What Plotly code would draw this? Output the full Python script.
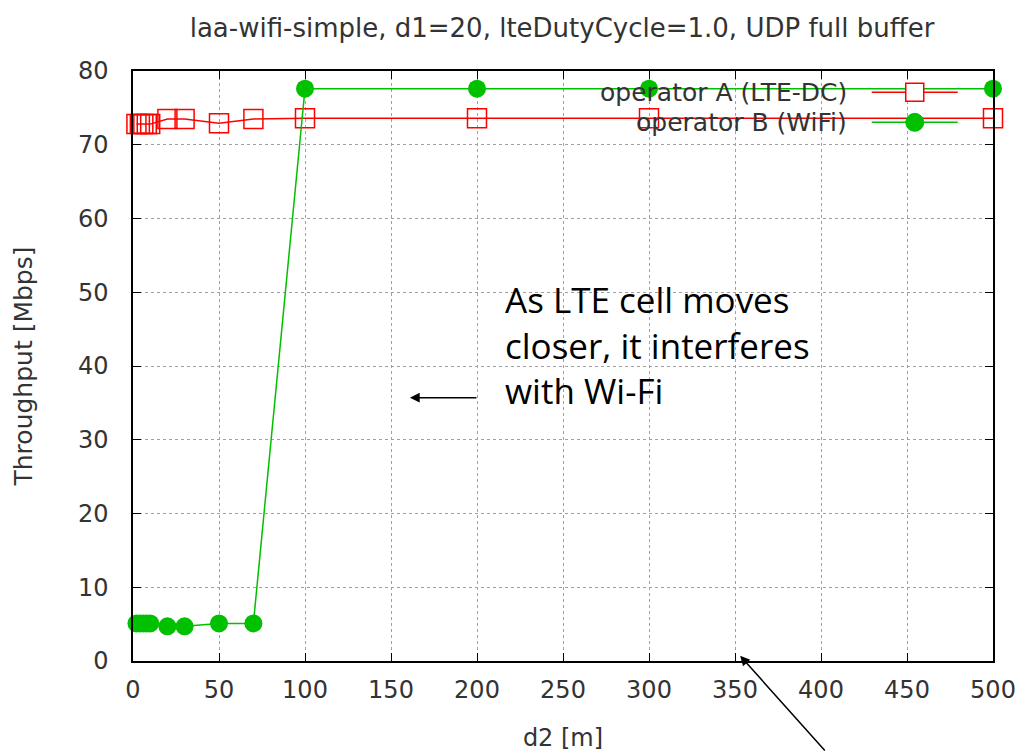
import plotly.graph_objects as go

# ---- data ----
d2 = [2, 4, 6, 8, 10, 20, 30, 50, 70, 100, 200, 300, 500]
op_a_lte = [72.8, 72.8, 72.8, 72.8, 72.8, 73.5, 73.5, 72.9, 73.5, 73.6, 73.6, 73.6, 73.6]
op_b_wifi = [5.1, 5.1, 5.1, 5.1, 5.1, 4.7, 4.7, 5.1, 5.1, 77.6, 77.6, 77.6, 77.6]
x_ticks = [0, 50, 100, 150, 200, 250, 300, 350, 400, 450, 500]
y_ticks = [0, 10, 20, 30, 40, 50, 60, 70, 80]

RED = "#ff0000"
GREEN = "#00c000"
FONT = "DejaVu Sans"
TXT = "#333333"

fig = go.Figure()
fig.add_trace(go.Scatter(
    x=d2, y=op_a_lte, mode="lines+markers", name="operator A (LTE-DC)",
    line=dict(color=RED, width=1.5),
    marker=dict(symbol="square-open", size=19, color=RED, line=dict(width=1.5)),
    cliponaxis=False, showlegend=False))
fig.add_trace(go.Scatter(
    x=d2, y=op_b_wifi, mode="lines+markers", name="operator B (WiFi)",
    line=dict(color=GREEN, width=1.5),
    marker=dict(symbol="circle", size=18, color=GREEN),
    cliponaxis=False, showlegend=False))

axis_common = dict(
    showgrid=True, gridcolor="#a0a0a0", griddash="dot", gridwidth=1,
    showline=True, linecolor="black", linewidth=1.5, mirror="ticks",
    ticks="inside", ticklen=8, tickcolor="black", zeroline=False,
    tickfont=dict(family=FONT, size=24, color=TXT), automargin=False,
)

fig.update_xaxes(range=[0, 500], tickvals=x_ticks, ticklabelstandoff=6,
                 title=dict(text="d2 [m]", font=dict(family=FONT, size=24, color=TXT), standoff=28),
                 **axis_common)
fig.update_yaxes(range=[0, 80], tickvals=y_ticks, ticklabelstandoff=18,
                 title=dict(text="Throughput [Mbps]", font=dict(family=FONT, size=25, color=TXT), standoff=38),
                 **axis_common)

# custom legend (text right-aligned, sample to the right)
legend_items = [("operator A (LTE-DC)", RED, "square", 0.964),
                ("operator B (WiFi)", GREEN, "circle", 0.913)]
shapes = []
annotations = []
for label, col, sym, yp in legend_items:
    annotations.append(dict(text=label, xref="paper", yref="paper", x=0.832, y=yp,
                            xanchor="right", yanchor="middle", showarrow=False,
                            font=dict(family=FONT, size=25, color=TXT)))
    shapes.append(dict(type="line", xref="paper", yref="paper", x0=0.859, x1=0.959,
                       y0=yp, y1=yp, line=dict(color=col, width=1.5)))
    if sym == "square":
        shapes.append(dict(type="rect", xref="paper", yref="paper",
                           xsizemode="pixel", ysizemode="pixel",
                           xanchor=0.909, yanchor=yp, x0=-9, x1=9, y0=-9, y1=9,
                           line=dict(color=col, width=1.5), fillcolor="white"))
    else:
        shapes.append(dict(type="circle", xref="paper", yref="paper",
                           xsizemode="pixel", ysizemode="pixel",
                           xanchor=0.909, yanchor=yp, x0=-9, x1=9, y0=-9, y1=9,
                           line=dict(color=col, width=1), fillcolor=col))

annotations.append(dict(
    text="As LTE cell moves<br>closer, it interferes<br>with Wi-Fi",
    xref="paper", yref="paper", x=(503 - 133) / 860, y=(661 - 345) / 590,
    xanchor="left", yanchor="middle", align="left", showarrow=False,
    font=dict(family="Open Sans", size=35, color="black")))
annotations.append(dict(x=161, y=35.7, xref="x", yref="y", text="", showarrow=True,
                        ax=68, ay=0, arrowhead=2, arrowsize=1.3, arrowwidth=1.5,
                        arrowcolor="black"))
annotations.append(dict(x=353, y=0.7, xref="x", yref="y", text="", showarrow=True,
                        ax=86, ay=100, arrowhead=2, arrowsize=1.3, arrowwidth=1.5,
                        arrowcolor="black"))

fig.update_layout(
    width=1019, height=752,
    margin=dict(l=133, r=26, t=71, b=91),
    paper_bgcolor="white", plot_bgcolor="white",
    title=dict(text="laa-wifi-simple, d1=20, lteDutyCycle=1.0, UDP full buffer",
               x=(187 + 937) / 2 / 1019, xanchor="center", y=1 - 28 / 752, yanchor="middle",
               font=dict(family=FONT, size=26, color=TXT), automargin=False),
    shapes=shapes, annotations=annotations,
)

fig.write_html("out.html")
